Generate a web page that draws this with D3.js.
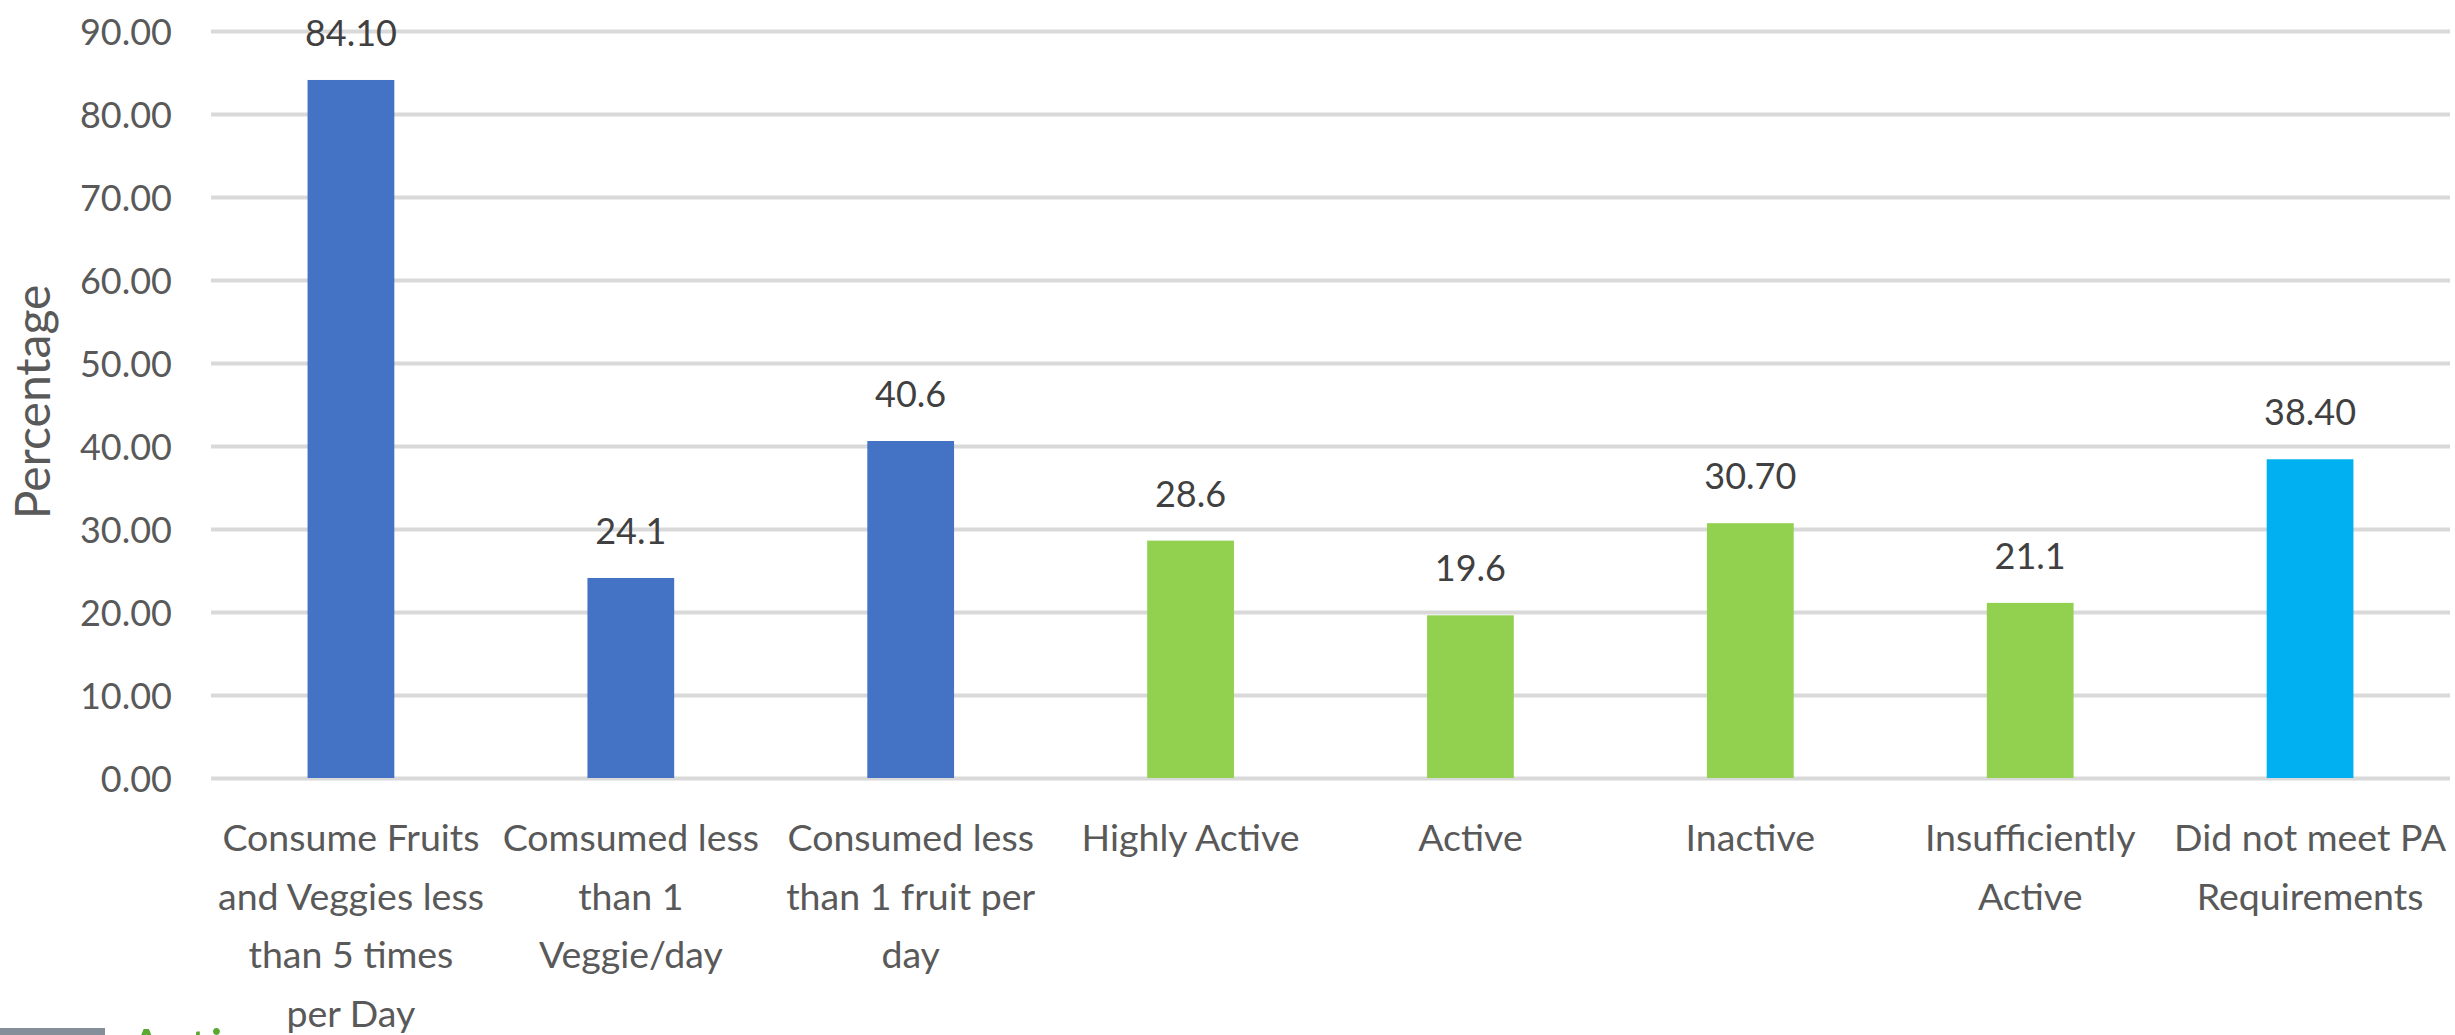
<!DOCTYPE html>
<html>
<head>
<meta charset="utf-8">
<script src="https://cdn.jsdelivr.net/npm/d3@7"></script>
<style>
  body { margin: 0; background: #fff; }
  svg { display: block; font-family: Lato, "Open Sans", sans-serif; }
  .grid line { stroke: #d9d9d9; stroke-width: 4; }
  .grid .domain { display: none; }
  .y-labels text { fill: #595959; font-size: 36px; }
  .x-labels text { fill: #595959; font-size: 37.5px; }
  .data-label { fill: #404040; font-size: 36px; }
  .axis-title { fill: #595959; font-size: 48px; }
</style>
</head>
<body>
<div id="chart"></div>
<script>
// categories, split the way the picture wraps them
const categoryLines = [
  ['Consume Fruits', 'and Veggies less', 'than 5 times', 'per Day'],
  ['Comsumed less', 'than 1', 'Veggie/day'],
  ['Consumed less', 'than 1 fruit per', 'day'],
  ['Highly Active'],
  ['Active'],
  ['Inactive'],
  ['Insufficiently', 'Active'],
  ['Did not meet PA', 'Requirements']
];
const categories = categoryLines.map((d) => { return d.join(' ') });
const values = [84.10, 24.1, 40.6, 28.6, 19.6, 30.70, 21.1, 38.40];
const valueLabels = ['84.10', '24.1', '40.6', '28.6', '19.6', '30.70', '21.1', '38.40'];
const groups = ['food', 'food', 'food', 'pa', 'pa', 'pa', 'pa', 'total'];
const yTicks = [0, 10, 20, 30, 40, 50, 60, 70, 80, 90];

const colors = { food: '#4472c4', pa: '#92d050', total: '#00b0f0' };

const width = 2455;
const height = 1035;
const plot = { left: 211, right: 2450, top: 31, bottom: 778 };

const svg = d3.select('#chart').append('svg')
  .attr('width', width)
  .attr('height', height);

const xScale = d3.scaleBand()
  .domain(categories)
  .range([plot.left, plot.right])
  .paddingInner(0.69)
  .paddingOuter(0.345);

const yScale = d3.scaleLinear()
  .domain([0, 90])
  .range([plot.bottom, plot.top]);

// gridlines
svg.append('g')
  .attr('class', 'grid')
  .attr('transform', `translate(${ plot.left }, 0)`)
  .call(d3.axisRight(yScale)
    .tickValues(yTicks)
    .tickSize(plot.right - plot.left)
    .tickFormat(''));

// y tick labels
svg.append('g')
  .attr('class', 'y-labels')
  .selectAll('text')
  .data(yTicks)
    .enter()
  .append('text')
    .attr('x', 172)
    .attr('y', (d) => { return yScale(d) })
    .attr('text-anchor', 'end')
    .attr('dominant-baseline', 'central')
    .text((d) => { return d3.format('.2f')(d) });

// bars
const data = categories.map((c, i) => {
  return { key: c, value: values[i], label: valueLabels[i], group: groups[i], lines: categoryLines[i] };
});

svg.append('g')
  .selectAll('rect')
  .data(data)
    .enter()
  .append('rect')
    .attr('x', (d) => { return xScale(d.key) })
    .attr('y', (d) => { return yScale(d.value) })
    .attr('width', xScale.bandwidth())
    .attr('height', (d) => { return yScale(0) - yScale(d.value) })
    .attr('fill', (d) => { return colors[d.group] });

// value labels
svg.append('g')
  .selectAll('text')
  .data(data)
    .enter()
  .append('text')
    .attr('class', 'data-label')
    .attr('x', (d) => { return xScale(d.key) + xScale.bandwidth() / 2 })
    .attr('y', (d) => { return yScale(d.value) - 34 })
    .attr('text-anchor', 'middle')
    .text((d) => { return d.label });

// category labels
const xLabels = svg.append('g')
  .attr('class', 'x-labels')
  .selectAll('text')
  .data(data)
    .enter()
  .append('text')
    .attr('text-anchor', 'middle')
    .attr('transform', (d) => {
      return `translate(${ xScale(d.key) + xScale.bandwidth() / 2 }, 851)`;
    });

xLabels.selectAll('tspan')
  .data((d) => { return d.lines })
    .enter()
  .append('tspan')
    .attr('x', 0)
    .attr('y', (d, i) => { return i * 58.5 })
    .text((d) => { return d });

// axis title
svg.append('text')
  .attr('class', 'axis-title')
  .attr('transform', 'translate(50, 402) rotate(-90)')
  .attr('text-anchor', 'middle')
  .text('Percentage');

// clipped piece of the next slide element at the bottom left
svg.append('rect')
  .attr('x', 0)
  .attr('y', 1028)
  .attr('width', 105)
  .attr('height', 7)
  .attr('fill', '#848f99');

svg.append('text')
  .attr('x', 128)
  .attr('y', 1068)
  .attr('fill', '#5aa832')
  .attr('font-size', 54)
  .text('Active');
</script>
</body>
</html>
